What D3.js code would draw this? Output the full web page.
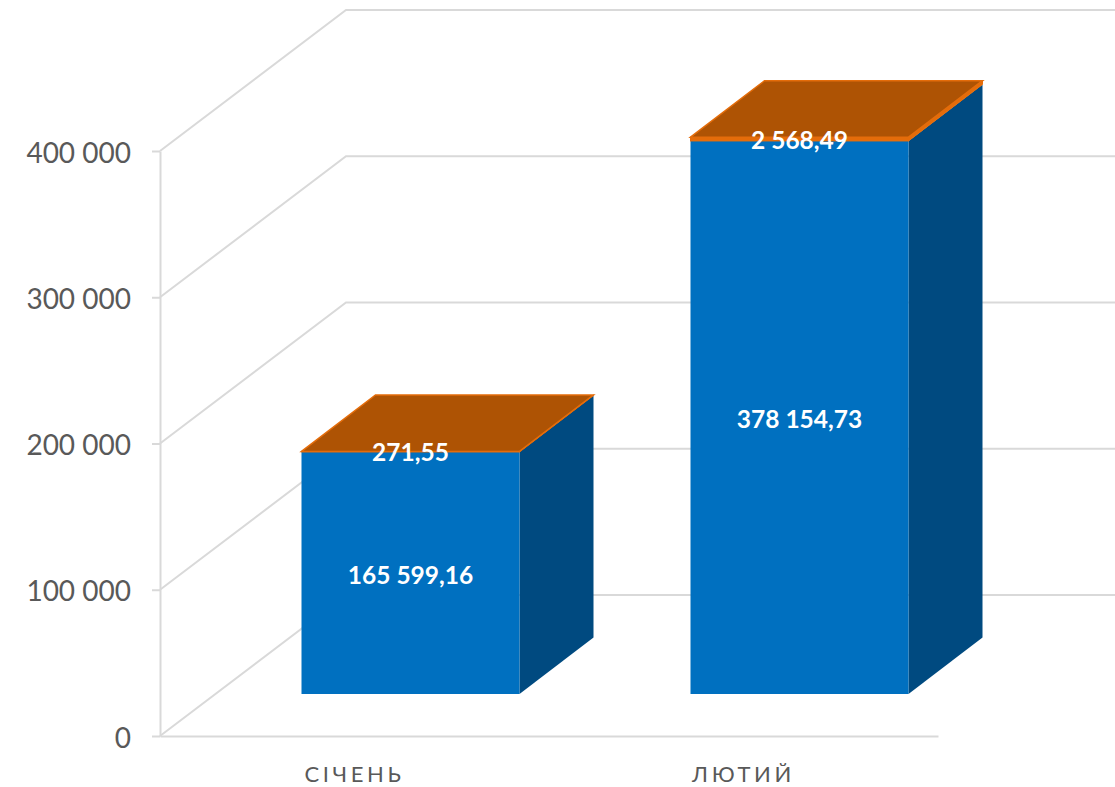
<!DOCTYPE html>
<html>
<head>
<meta charset="utf-8">
<script src="https://cdnjs.cloudflare.com/ajax/libs/d3/7.8.5/d3.min.js"></script>
<style>
  html, body { margin: 0; padding: 0; background: #fff; }
  svg { display: block; }
</style>
</head>
<body>
<svg id="chart" width="1115" height="787"></svg>
<script>
// values
var months = ["СІЧЕНЬ", "ЛЮТИЙ"];
var blueValues = [165599.16, 378154.73];
var orangeValues = [271.55, 2568.49];
var yTicks = [0, 100000, 200000, 300000, 400000];

var width = 1115, height = 787;
var colBlue = "#0070c0", colBlueSide = "#004a80";
var colOrange = "#e46c0a", colOrangeTop = "#ae5304";
var colGrid = "#d9d9d9", colText = "#595959";
var fontName = "Lato, 'Open Sans', sans-serif";

var svg = d3.select("#chart");

var ru = d3.formatLocale({decimal: ",", thousands: "\u00a0", grouping: [3], currency: ["", ""]});
var fmtTick = ru.format(",d");
var fmtVal = ru.format(",.2f");

// the front wall
var y = d3.scaleLinear().domain([0, 400000]).range([736, 151]);
var x = d3.scaleBand().domain(months).range([160, 938]);

// 3d offsets
var wall = {dx: 186, dy: -141};       // left wall depth
var barFront = {dx: 56, dy: -42};     // where the bar front sits in the depth
var barDepth = {dx: 74, dy: -56.5};   // how deep the bar is
var barWidth = 218;

// gridlines over wall and back wall
svg.append("g").selectAll("path")
  .data(yTicks)
  .enter()
  .append("path")
  .attr("d", function(d) {
    var p = d3.path();
    p.moveTo(160, y(d));
    p.lineTo(160 + wall.dx, y(d) + wall.dy);
    p.lineTo(width, y(d) + wall.dy);
    return p.toString();
  })
  .attr("fill", "none")
  .attr("stroke", colGrid)
  .attr("stroke-width", 2);

// y axis
var yAxis = svg.append("g")
  .attr("transform", "translate(160,0)")
  .call(d3.axisLeft(y).tickValues(yTicks).tickFormat(fmtTick).tickSize(8).tickSizeOuter(0).tickPadding(21));
yAxis.selectAll("path, line").attr("stroke", colGrid).attr("stroke-width", 2);
yAxis.selectAll("text")
  .attr("fill", colText)
  .attr("dy", "0.4em")
  .style("font-family", fontName)
  .style("font-size", "28px");

// x axis
var xAxis = svg.append("g")
  .attr("transform", "translate(0,736)")
  .call(d3.axisBottom(x).tickSize(0).tickPadding(30));
xAxis.select("path").attr("stroke", colGrid).attr("stroke-width", 2);
xAxis.selectAll("text")
  .attr("fill", colText)
  .style("font-family", fontName)
  .style("font-size", "22px")
  .style("letter-spacing", "3.6px");

function poly(pts) {
  return d3.line()(pts) + "Z";
}

// bars
var bars = svg.append("g").selectAll("g")
  .data(months)
  .enter()
  .append("g");

bars.each(function(m, i) {
  var g = d3.select(this);
  var x0 = x(m) + x.bandwidth() / 2 + barFront.dx - barWidth / 2;
  var x1 = x0 + barWidth;
  var h1 = y(0) - y(blueValues[i]);
  var h2 = y(0) - y(orangeValues[i]);
  var base = y(0) + barFront.dy;
  var topBlue = base - h1;
  var topAll = topBlue - h2;
  var dx = barDepth.dx, dy = barDepth.dy;

  // blue
  g.append("path")
    .attr("d", poly([[x1, base], [x1 + dx, base + dy], [x1 + dx, topBlue + dy], [x1, topBlue]]))
    .attr("fill", colBlueSide);
  g.append("rect")
    .attr("x", x0).attr("y", topBlue)
    .attr("width", barWidth).attr("height", h1)
    .attr("fill", colBlue);

  // orange
  g.append("path")
    .attr("d", poly([[x1, topBlue], [x1 + dx, topBlue + dy], [x1 + dx, topAll + dy], [x1, topAll]]))
    .attr("fill", colOrange)
    .attr("stroke", colOrange);
  g.append("rect")
    .attr("x", x0).attr("y", topAll)
    .attr("width", barWidth).attr("height", h2)
    .attr("fill", colOrange)
    .attr("stroke", colOrange);
  g.append("path")
    .attr("d", poly([[x0, topAll], [x0 + dx, topAll + dy], [x1 + dx, topAll + dy], [x1, topAll]]))
    .attr("fill", colOrangeTop)
    .attr("stroke", colOrange)
    .attr("stroke-width", 1.5);

  // data labels
  var cx = (x0 + x1) / 2;
  g.append("text").attr("class", "lbl")
    .attr("x", cx).attr("y", (base + topBlue) / 2 + 4.5)
    .text(fmtVal(blueValues[i]));
  g.append("text").attr("class", "lbl")
    .attr("x", cx).attr("y", (topBlue + topAll) / 2 + 3.5)
    .text(fmtVal(orangeValues[i]));
});

svg.selectAll(".lbl")
  .attr("text-anchor", "middle")
  .attr("dominant-baseline", "middle")
  .attr("fill", "#fff")
  .style("font-family", fontName)
  .style("font-weight", "700")
  .style("font-size", "24.5px");
</script>
</body>
</html>
